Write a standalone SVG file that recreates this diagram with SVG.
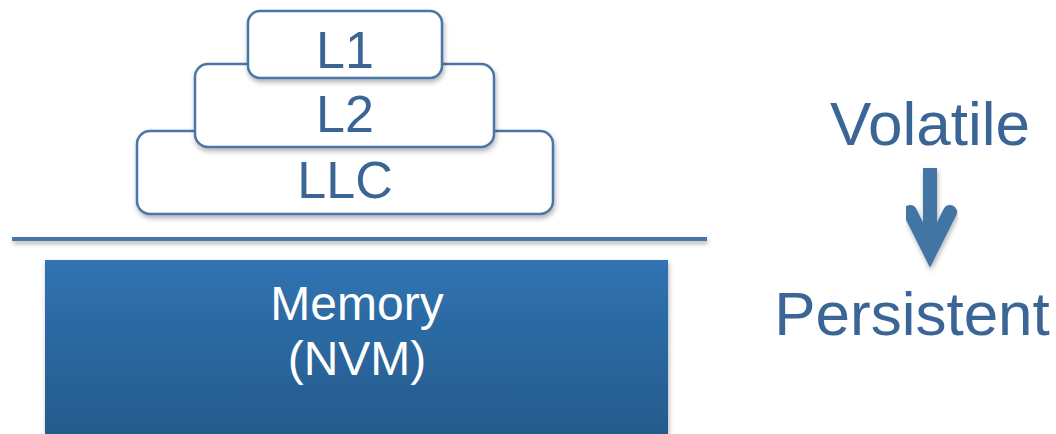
<svg xmlns="http://www.w3.org/2000/svg" width="1056" height="434" viewBox="0 0 1056 434">
<defs>
<filter id="sh" x="-10%" y="-10%" width="130%" height="140%">
<feDropShadow dx="1" dy="3" stdDeviation="2.5" flood-color="#000" flood-opacity="0.3"/>
</filter>
<filter id="shl" x="-2%" y="-100%" width="104%" height="400%">
<feDropShadow dx="1" dy="3" stdDeviation="2" flood-color="#000" flood-opacity="0.3"/>
</filter>
<linearGradient id="mem" x1="0" y1="0" x2="0" y2="1">
<stop offset="0" stop-color="#3073b1"/>
<stop offset="1" stop-color="#255a8b"/>
</linearGradient>
<style>
.cache{fill:#fff;stroke:#4a76a6;stroke-width:2.5}
.t{font-family:"Liberation Sans",Arial,sans-serif;fill:#3a6595;text-anchor:middle}
.w{font-family:"Liberation Sans",Arial,sans-serif;fill:#fff;text-anchor:middle;font-size:48px}
.arr{fill:none;stroke:#4374a3;stroke-width:14}
</style>
</defs>
<g id="llc"><rect class="cache" x="137" y="131" width="416" height="83" rx="13" filter="url(#sh)"/><text class="t" x="345" y="198" font-size="52">LLC</text></g>
<g id="l2"><rect class="cache" x="195" y="64" width="299" height="83" rx="13" filter="url(#sh)"/><text class="t" x="345" y="132" font-size="52">L2</text></g>
<g id="l1"><rect class="cache" x="248" y="11" width="194" height="67" rx="12" filter="url(#sh)"/><text class="t" x="345" y="68" font-size="52">L1</text></g>
<g id="divider"><rect x="12" y="237" width="695" height="4" fill="#4a76a6" filter="url(#shl)"/></g>
<g id="memory"><rect x="45" y="260" width="623" height="180" fill="url(#mem)" filter="url(#sh)"/><text class="w" x="357" y="320">Memory</text><text class="w" x="357" y="375">(NVM)</text></g>
<g id="volatile"><text class="t" x="930" y="145" font-size="62">Volatile</text></g>
<g id="connectors" filter="url(#sh)"><path class="arr" d="M930 168 V250"/><path class="arr" d="M910 212 L930 252 L950 212" stroke-linecap="round"/></g>
<g id="persistent"><text class="t" x="912" y="335" font-size="62">Persistent</text></g>
</svg>
